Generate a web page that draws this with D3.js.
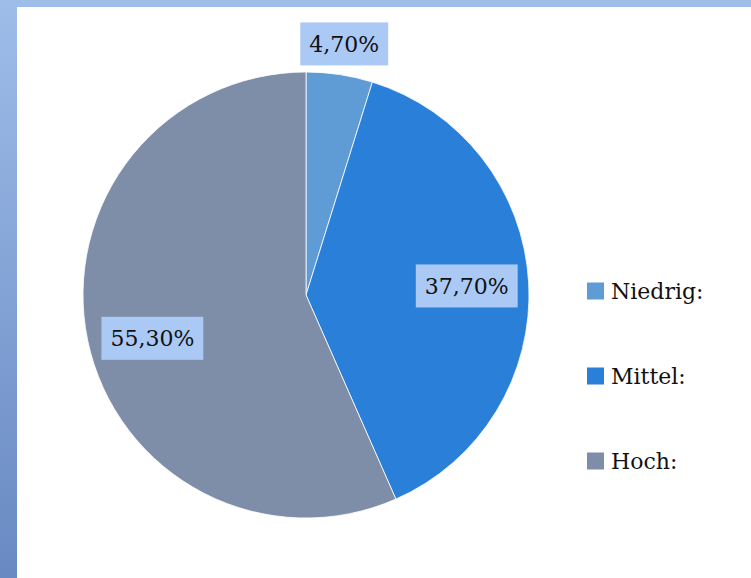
<!DOCTYPE html>
<html><head><meta charset="utf-8">
<script src="https://cdn.jsdelivr.net/npm/d3@7"></script>
<style>html,body{margin:0;padding:0;background:#fff;}svg{display:block;}</style>
</head><body>
<script>
const categories = ["Niedrig:", "Mittel:", "Hoch:"];
const values = [4.7, 37.7, 55.3];
const labels = ["4,70%", "37,70%", "55,30%"];
const colors = ["#5f9cd5", "#2a7fd8", "#7f8ea8"];

const W = 751, H = 578;
const svg = d3.select("body").append("svg").attr("width", W).attr("height", H);
const defs = svg.append("defs");
const g = defs.append("linearGradient").attr("id","bg").attr("x1",0).attr("y1",0).attr("x2",0).attr("y2",1);
g.append("stop").attr("offset","0").attr("stop-color","#9ebde9");
g.append("stop").attr("offset","1").attr("stop-color","#6889c2");
svg.append("rect").attr("width",W).attr("height",H).attr("fill","url(#bg)");
svg.append("rect").attr("x",17).attr("y",7).attr("width",W-17).attr("height",H-7).attr("fill","#fff");

const cx = 306, cy = 295, r = 223;
const pie = d3.pie().sort(null).value(d => d)(values);
const arc = d3.arc().innerRadius(0).outerRadius(r);
const gp = svg.append("g").attr("transform", `translate(${cx},${cy})`);
gp.selectAll("path").data(pie).join("path")
  .attr("d", arc).attr("fill", (d,i) => colors[i])
  .attr("stroke", "#fff").attr("stroke-width", 0.8);

const font = "'DejaVu Serif', serif";
const labelArcs = [d3.arc().innerRadius(254).outerRadius(254),
                   d3.arc().innerRadius(161).outerRadius(161),
                   d3.arc().innerRadius(157).outerRadius(157)];
pie.forEach((d,i) => {
  let a = d.startAngle + (d.endAngle - d.startAngle)/2;
  let [x,y] = labelArcs[i].centroid(d);
  if (i === 2) { y += 11; }
  const lg = gp.append("g").attr("transform", `translate(${x},${y})`);
  const t = lg.append("text").text(labels[i]).attr("text-anchor","middle")
    .attr("dy","0.36em").attr("font-family",font).attr("font-size",22).attr("fill","#111");
  const bb = t.node().getBBox();
  lg.insert("rect","text").attr("x", bb.x - 9).attr("y", -21.5)
    .attr("width", bb.width + 18).attr("height", 43).attr("fill", "#abc9f5");
});

const leg = svg.append("g");
const ly = d3.scalePoint().domain(categories).range([291, 461]);
categories.forEach((c,i) => {
  const y = ly(c);
  leg.append("rect").attr("x",587).attr("y",y-8.5).attr("width",17).attr("height",17).attr("fill",colors[i]);
  leg.append("text").attr("x",611).attr("y",y).attr("dy","0.36em").text(c)
    .attr("font-family",font).attr("font-size",22).attr("fill","#111");
});
</script>
</body></html>
